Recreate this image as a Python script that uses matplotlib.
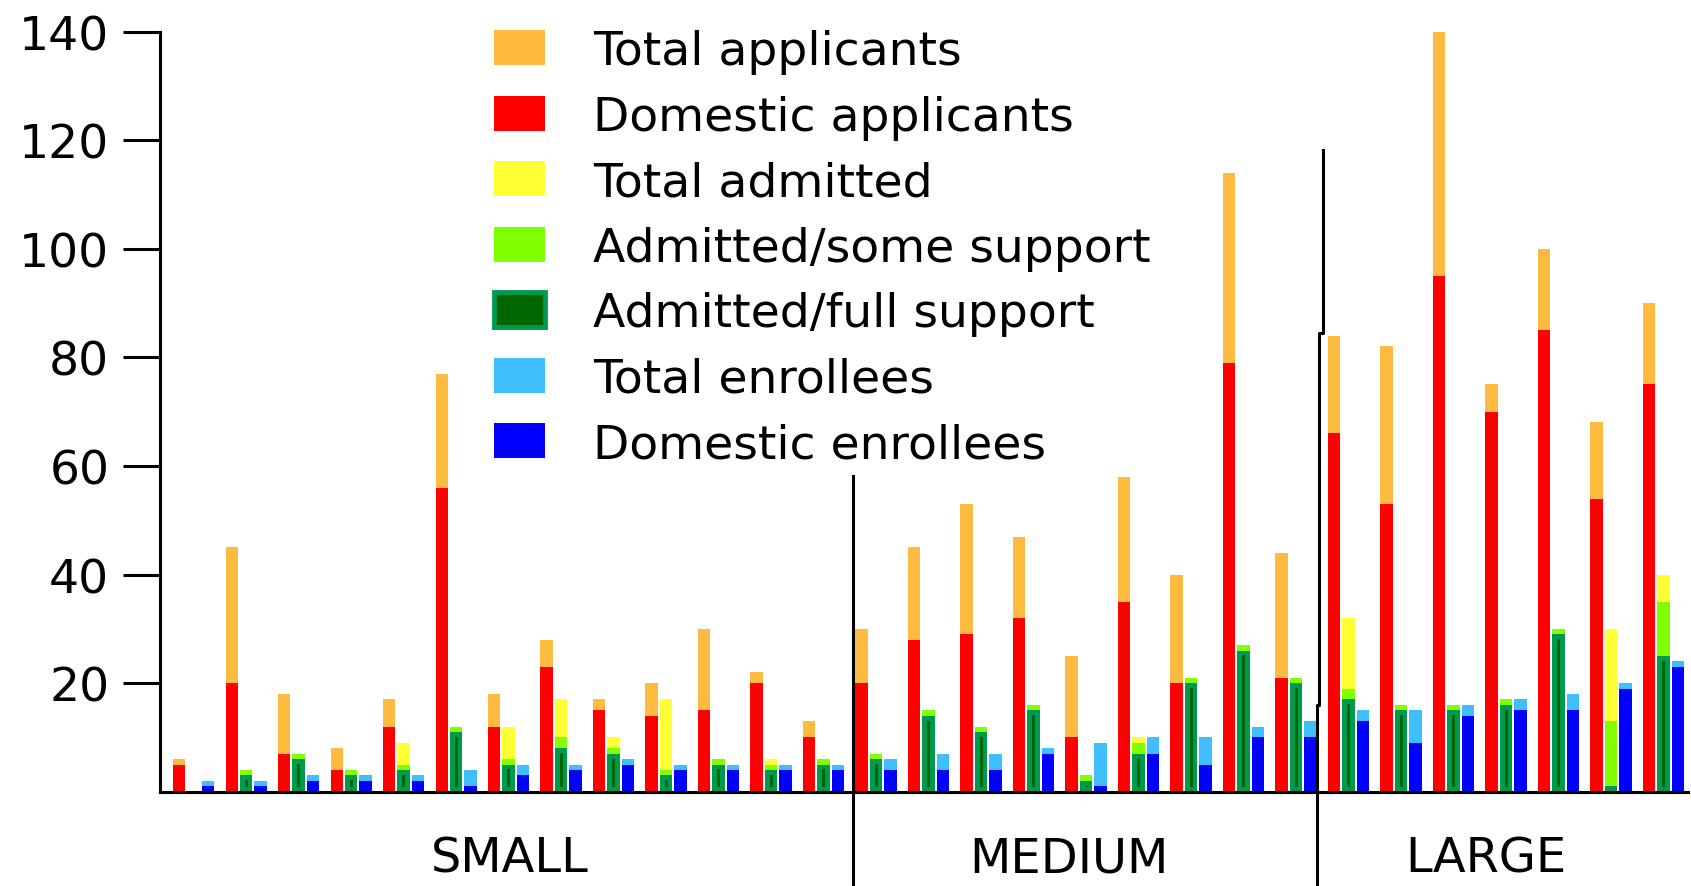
import numpy as np
import matplotlib
matplotlib.use('Agg')
import matplotlib.pyplot as plt
from matplotlib.patches import Patch
from matplotlib.transforms import blended_transform_factory

# group names under the x axis
groups = ['SMALL', 'MEDIUM', 'LARGE']
# where the group names sit (in program units)
group_label_pos = [6.3, 16.95, 24.9]

# one value per program (13 small, 9 medium, 7 large)
total_applicants = [6, 45, 18, 8, 17, 77, 18, 28, 17, 20, 30, 22, 13,
                    30, 45, 53, 47, 25, 58, 40, 114, 44,
                    84, 82, 140, 75, 100, 68, 90]
domestic_applicants = [5, 20, 7, 4, 12, 56, 12, 23, 15, 14, 15, 20, 10,
                       20, 28, 29, 32, 10, 35, 20, 79, 21,
                       66, 53, 95, 70, 85, 54, 75]
total_admitted = [0, 4, 7, 4, 9, 12, 12, 17, 10, 17, 6, 6, 6,
                  7, 15, 12, 16, 3, 10, 21, 27, 21,
                  32, 16, 16, 17, 30, 30, 40]
admitted_some = [0, 4, 7, 4, 5, 12, 6, 10, 8, 4, 6, 5, 6,
                 7, 15, 12, 16, 3, 9, 21, 27, 21,
                 19, 16, 16, 17, 30, 13, 35]
admitted_full = [0, 3, 6, 3, 4, 11, 5, 8, 7, 3, 5, 4, 5,
                 6, 14, 11, 15, 2, 7, 20, 26, 20,
                 17, 15, 15, 16, 29, 1, 25]
total_enrollees = [2, 2, 3, 3, 3, 4, 5, 5, 6, 5, 5, 5, 5,
                   6, 7, 7, 8, 9, 10, 10, 12, 13,
                   15, 15, 16, 17, 18, 20, 24]
domestic_enrollees = [1, 1, 2, 2, 2, 1, 3, 4, 5, 4, 4, 4, 4,
                      4, 4, 4, 7, 1, 7, 5, 10, 10,
                      13, 9, 14, 15, 15, 19, 23]

labels = ['Total applicants', 'Domestic applicants', 'Total admitted',
          'Admitted/some support', 'Admitted/full support',
          'Total enrollees', 'Domestic enrollees']

# colours
orange = '#FFBB40'
red = '#FF0000'
yellow = '#FFFF33'
lime = '#80FF00'
green = '#009950'
dark_green = '#006600'
light_blue = '#40BFFF'
blue = '#0000FF'

n = np.arange(len(total_applicants))
w = 0.235      # bar width
step = 0.275   # distance between the three bars of a program

fig = plt.figure(figsize=(16.91, 8.87), dpi=100)
ax = fig.add_axes([0.0946, 0.1063, 0.9036, 0.857])

# applicants
ax.bar(n, total_applicants, w, color=orange, lw=0)
ax.bar(n, domestic_applicants, w, color=red, lw=0)
# admitted
ax.bar(n + step, total_admitted, w, color=yellow, lw=0)
ax.bar(n + step, admitted_some, w, color=lime, lw=0)
ax.bar(n + step, admitted_full, w, color=green, lw=0)
inner = np.clip(np.array(admitted_full) - 1.8, 0, None)
ax.bar(n + step, inner, w * 0.25, bottom=0.9, color=dark_green, lw=0)
# enrollees
ax.bar(n + 2 * step, total_enrollees, w, color=light_blue, lw=0)
ax.bar(n + 2 * step, domestic_enrollees, w, color=blue, lw=0)

# group dividers
ax.plot([12.83, 12.83], [-17.5, 58.2], color='black', lw=2.2, clip_on=False)
ax.plot([21.79, 21.79, 21.71, 21.71, 21.67, 21.67],
        [118.2, 84.4, 84.4, 16, 16, -17.5],
        color='black', lw=2.2, clip_on=False)

ax.set_xlim(-0.366, 28.74)
ax.set_ylim(0, 140)
ax.set_yticks(range(20, 141, 20))
ax.set_xticks([])

# group names below the axis
trans = blended_transform_factory(ax.transData, fig.transFigure)
for pos, name in zip(group_label_pos, groups):
    ax.text(pos, 14 / 887, name, transform=trans, ha='center', va='baseline',
            fontsize=34.5)

for s in ['top', 'right']:
    ax.spines[s].set_visible(False)
for s in ['left', 'bottom']:
    ax.spines[s].set_linewidth(2.2)

ax.tick_params(axis='y', length=26.5, width=2.2, pad=10, labelsize=34)

# legend
handles = [Patch(facecolor=orange), Patch(facecolor=red), Patch(facecolor=yellow),
           Patch(facecolor=lime),
           Patch(facecolor=dark_green, edgecolor=green, linewidth=3.5),
           Patch(facecolor=light_blue), Patch(facecolor=blue)]
ax.legend(handles, labels, loc='upper left', bbox_to_anchor=(494 / 1691, 1 - 30 / 887),
          bbox_transform=fig.transFigure, frameon=False, fontsize=34,
          handlelength=1.08, handleheight=0.76, handletextpad=1.02,
          labelspacing=0.435, borderpad=0, borderaxespad=0)

fig.savefig('out.png', dpi=100, facecolor='white')
